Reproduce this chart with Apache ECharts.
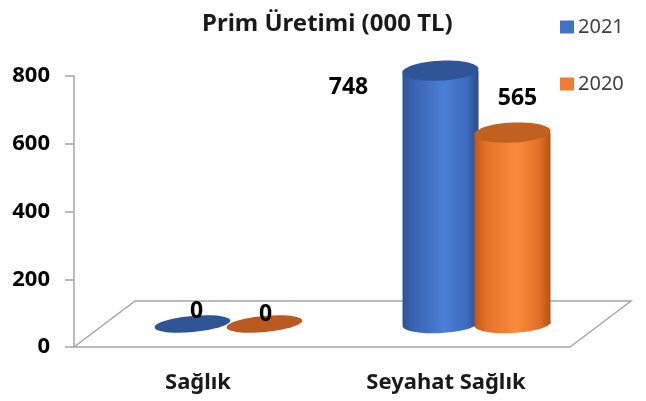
<!DOCTYPE html>
<html lang="tr">
  <head>
    <meta charset="utf-8" />
    <style>
      html,
      body {
        margin: 0;
        background: #fff;
      }
      #container {
        width: 646px;
        height: 401px;
      }
    </style>
    <script src="https://cdn.jsdelivr.net/npm/echarts@6/dist/echarts.min.js"></script>
  </head>

  <body>
    <div id="container"></div>

    <script>
      var categories = ["Sağlık", "Seyahat Sağlık"];
      var years = ["2021", "2020"];
      var values2021 = [0, 748];
      var values2020 = [0, 565];
      var yTicks = [0, 200, 400, 600, 800];

      (function () {
        var chart = echarts.init(document.querySelector("#container"));

        // depth of the 3d floor, in px
        var DX = 61;
        var DY = -46;
        var RX = 38;
        var RY = 9;
        var FONT = "Noto Sans";

        // where the data labels sit, relative to the top of each cylinder
        var labelShift = {
          "2021": [[4, -13], [-92, 17]],
          "2020": [[1, -10], [5, -34]]
        };

        var palette = {
          "2021": {
            base: "#4472c4",
            top: "#2f5597",
            flat: "#2f5597",
            body: [
              [0, "#2d5290"],
              [0.12, "#3862b0"],
              [0.55, "#4a7fd6"],
              [0.85, "#3d6abd"],
              [1, "#2a4c88"]
            ]
          },
          "2020": {
            base: "#ed7d31",
            top: "#c0611f",
            flat: "#b85a22",
            body: [
              [0, "#c05516"],
              [0.15, "#e4712a"],
              [0.55, "#f98c3a"],
              [0.85, "#e27128"],
              [1, "#b65015"]
            ]
          }
        };

        function grad(stops) {
          return {
            type: "linear",
            x: 0,
            y: 0,
            x2: 1,
            y2: 0,
            colorStops: stops.map(function (s) {
              return { offset: s[0], color: s[1] };
            })
          };
        }

        function cylinder(year, side) {
          var pal = palette[year];
          return function (params, api) {
            var cat = api.value(0);
            var val = api.value(1);
            var base = api.coord([cat, 0]);
            var top = api.coord([cat, val]);
            var cx = base[0] + DX / 2 + side * 36;
            var by = base[1] + DY / 2;
            var ty = top[1] + DY / 2;
            var sh = labelShift[year][params.dataIndex];
            var children = [];
            if (val === 0) {
              children.push({
                type: "ellipse",
                shape: { cx: 0, cy: 0, rx: RX, ry: 8 },
                x: cx,
                y: by,
                rotation: 0.09,
                style: { fill: pal.flat }
              });
            } else {
              children.push({
                type: "ellipse",
                shape: { cx: 0, cy: 0, rx: RX, ry: RY },
                x: cx,
                y: by,
                rotation: 0.05,
                style: { fill: grad(pal.body) }
              });
              children.push({
                type: "rect",
                shape: { x: cx - RX, y: ty, width: RX * 2, height: by - ty },
                style: { fill: grad(pal.body) }
              });
              children.push({
                type: "ellipse",
                shape: { cx: 0, cy: 0, rx: RX, ry: RY + 1 },
                x: cx,
                y: ty,
                rotation: 0.05,
                style: { fill: pal.top }
              });
            }
            children.push({
              type: "text",
              x: cx + sh[0],
              y: ty + sh[1],
              style: {
                text: String(val),
                fill: "#000",
                font: "bold 23px '" + FONT + "'",
                align: "center",
                verticalAlign: "middle"
              }
            });
            return { type: "group", children: children };
          };
        }

        function floor(params, api) {
          var cs = params.coordSys;
          var x0 = cs.x;
          var x1 = cs.x + cs.width;
          var y0 = cs.y + cs.height;
          return {
            type: "polyline",
            shape: {
              points: [
                [x0, y0],
                [x0 + DX, y0 + DY],
                [x1 + DX, y0 + DY],
                [x1, y0]
              ]
            },
            style: { stroke: "#a6a6a6", lineWidth: 1.5, fill: null }
          };
        }

        function pairs(vals) {
          return vals.map(function (v, i) {
            return [i, v];
          });
        }

        var option = {
          animation: false,
          title: {
            text: "Prim Üretimi (000 TL)",
            left: 202,
            top: 12,
            padding: 0,
            textStyle: {
              fontFamily: FONT,
              fontSize: 24,
              fontWeight: "bold",
              color: "#1a1a1a"
            }
          },
          legend: {
            data: years,
            orient: "vertical",
            left: 560,
            top: 17,
            padding: 0,
            itemWidth: 14,
            itemHeight: 13,
            itemGap: 37,
            icon: "rect",
            textStyle: {
              fontFamily: FONT,
              fontSize: 20,
              lineHeight: 20,
              color: "#404040",
              padding: [0, 0, 0, -1]
            }
          },
          grid: { left: 74, right: 76, top: 76, bottom: 54 },
          xAxis: {
            type: "category",
            data: categories,
            axisLine: { lineStyle: { color: "#a6a6a6", width: 1.5 } },
            axisTick: { length: 10, lineStyle: { color: "#a6a6a6", width: 1.5 } },
            axisLabel: {
              margin: 25,
              fontFamily: FONT,
              fontSize: 22,
              fontWeight: "bold",
              color: "#1a1a1a"
            }
          },
          yAxis: {
            type: "value",
            min: yTicks[0],
            max: yTicks[yTicks.length - 1],
            interval: 200,
            axisLine: { show: true, lineStyle: { color: "#a6a6a6", width: 1.5 } },
            axisTick: { show: true, length: 9, lineStyle: { color: "#a6a6a6", width: 1.5 } },
            splitLine: { show: false },
            axisLabel: {
              margin: 24,
              fontFamily: FONT,
              fontSize: 22,
              fontWeight: "bold",
              color: "#000"
            }
          },
          series: [
            {
              name: "floor",
              type: "custom",
              renderItem: floor,
              data: [[0, 0]],
              silent: true,
              z: 1
            },
            {
              name: years[0],
              type: "custom",
              renderItem: cylinder(years[0], -1),
              itemStyle: { color: palette["2021"].base },
              data: pairs(values2021),
              z: 3
            },
            {
              name: years[1],
              type: "custom",
              renderItem: cylinder(years[1], 1),
              itemStyle: { color: palette["2020"].base },
              data: pairs(values2020),
              z: 4
            }
          ]
        };
        chart.setOption(option);
      })();
    </script>
  </body>
</html>
